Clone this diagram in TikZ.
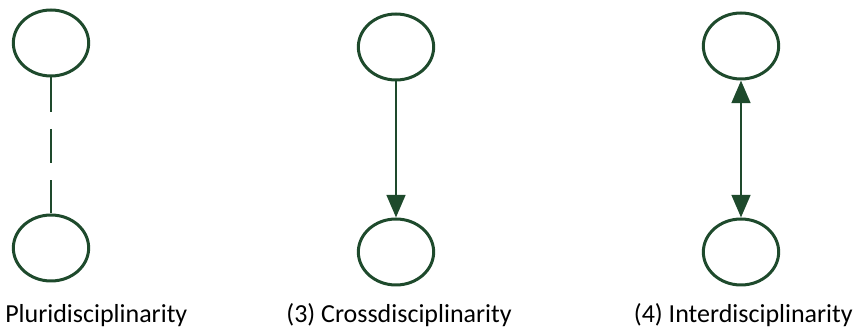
\documentclass[tikz,border=0pt]{standalone}
\usepackage{fontspec}
\setmainfont{Carlito}
\usetikzlibrary{shapes.geometric,arrows.meta}
\definecolor{dgreen}{RGB}{30,74,44}
\tikzset{
  circ/.style={ellipse,draw=dgreen,line width=2.25pt,minimum width=56.5pt,minimum height=49.5pt,inner sep=0pt},
  conn/.style={draw=dgreen,line width=2.1pt},
  tip/.style={-{Triangle[width=14pt,length=17pt]}},
  lbl/.style={inner sep=0pt,font=\fontsize{19.5pt}{23pt}\selectfont}
}
\begin{document}
\begin{tikzpicture}[x=0.75pt,y=-0.75pt]
\useasboundingbox (0,0) rectangle (857,334);
\node[circ] (a1) at (51,43) {};
\node[circ] (a2) at (51,248) {};
\node[circ] (b1) at (396,47) {};
\node[circ] (b2) at (396,252) {};
\node[circ] (c1) at (741,46) {};
\node[circ] (c2) at (741,252) {};
\draw[conn,dash pattern=on 26pt off 12.5pt] (a1) -- (a2);
\draw[conn,tip,fill=dgreen] (b1) -- (b2);
\draw[conn,{Triangle[width=14pt,length=17pt]}-{Triangle[width=14pt,length=17pt]},fill=dgreen] (c1) -- (c2);
\node[lbl,anchor=base west] (t1) at (5,323) {Pluridisciplinarity};
\node[lbl,anchor=base east] (t2) at (512,323) {(3) Crossdisciplinarity};
\node[lbl,anchor=base east] (t3) at (853,323) {(4) Interdisciplinarity};
\end{tikzpicture}
\end{document}
